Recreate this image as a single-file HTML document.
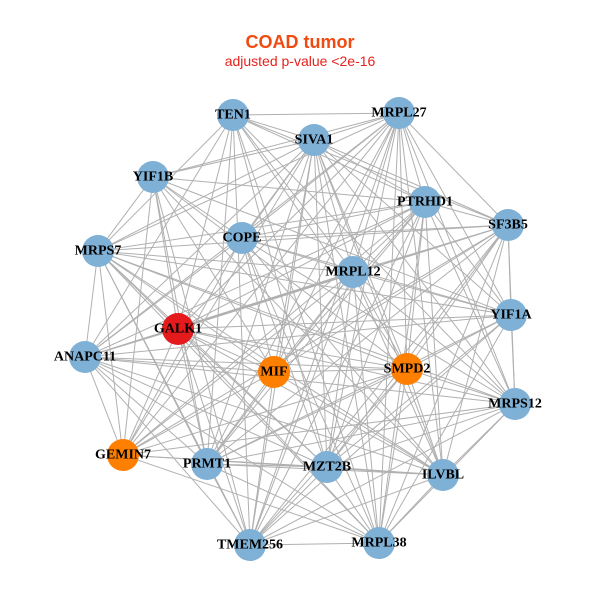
<!DOCTYPE html>
<html><head><meta charset="utf-8"><style>
html,body{margin:0;padding:0;background:#fff;}
svg{display:block;}
.l{font-family:"Liberation Serif",serif;font-weight:bold;font-size:14px;text-anchor:middle;dominant-baseline:central;fill:#000;}
</style></head><body>
<svg id="s" width="600" height="600" viewBox="0 0 600 600">
<text x="300" y="48" text-anchor="middle" font-family="Liberation Sans,sans-serif" font-weight="bold" font-size="18" fill="#f04a10">COAD tumor</text>
<text x="300" y="66" text-anchor="middle" font-family="Liberation Sans,sans-serif" font-size="14" fill="#e8221c">adjusted p-value &lt;2e-16</text>
<g id="e" stroke="#b0b0b0" stroke-width="1"></g>
<g id="n"></g>
<g>
<text class="l" x="233" y="115">TEN1</text>
<text class="l" x="399" y="113">MRPL27</text>
<text class="l" x="314" y="140">SIVA1</text>
<text class="l" x="153" y="177">YIF1B</text>
<text class="l" x="425" y="202">PTRHD1</text>
<text class="l" x="508" y="225">SF3B5</text>
<text class="l" x="242" y="238">COPE</text>
<text class="l" x="98" y="251">MRPS7</text>
<text class="l" x="353" y="272">MRPL12</text>
<text class="l" x="511" y="315">YIF1A</text>
<text class="l" x="178" y="329">GALK1</text>
<text class="l" x="85" y="357">ANAPC11</text>
<text class="l" x="274" y="372">MIF</text>
<text class="l" x="407" y="369">SMPD2</text>
<text class="l" x="515" y="404">MRPS12</text>
<text class="l" x="123" y="455">GEMIN7</text>
<text class="l" x="207" y="464">PRMT1</text>
<text class="l" x="327" y="467">MZT2B</text>
<text class="l" x="443" y="475">ILVBL</text>
<text class="l" x="250" y="545">TMEM256</text>
<text class="l" x="379" y="543">MRPL38</text>
</g>
</svg>
<script>
var N=[[233,115,0],[399,113,0],[314,140,0],[153,177,0],[425,202,0],[508,225,0],[242,238,0],[98,251,0],[353,272,0],[511,315,0],[178,329,2],[85,357,0],[274,372,1],[407,369,1],[515,404,0],[123,455,1],[207,464,0],[327,467,0],[443,475,0],[250,545,0],[379,543,0]];
var C=["#7fb0d5","#ff7f00","#e41a1c"];
var ns="http://www.w3.org/2000/svg",e=document.getElementById("e"),g=document.getElementById("n");
for(var i=0;i<N.length;i++)for(var j=i+1;j<N.length;j++){if((i*7+j*3)%9==0)continue;var l=document.createElementNS(ns,"line");l.setAttribute("x1",N[i][0]);l.setAttribute("y1",N[i][1]);l.setAttribute("x2",N[j][0]);l.setAttribute("y2",N[j][1]);e.appendChild(l);}
N.forEach(function(p){var c=document.createElementNS(ns,"circle");c.setAttribute("cx",p[0]);c.setAttribute("cy",p[1]);c.setAttribute("r",16);c.setAttribute("fill",C[p[2]]);g.appendChild(c);});
</script>
</body></html>
